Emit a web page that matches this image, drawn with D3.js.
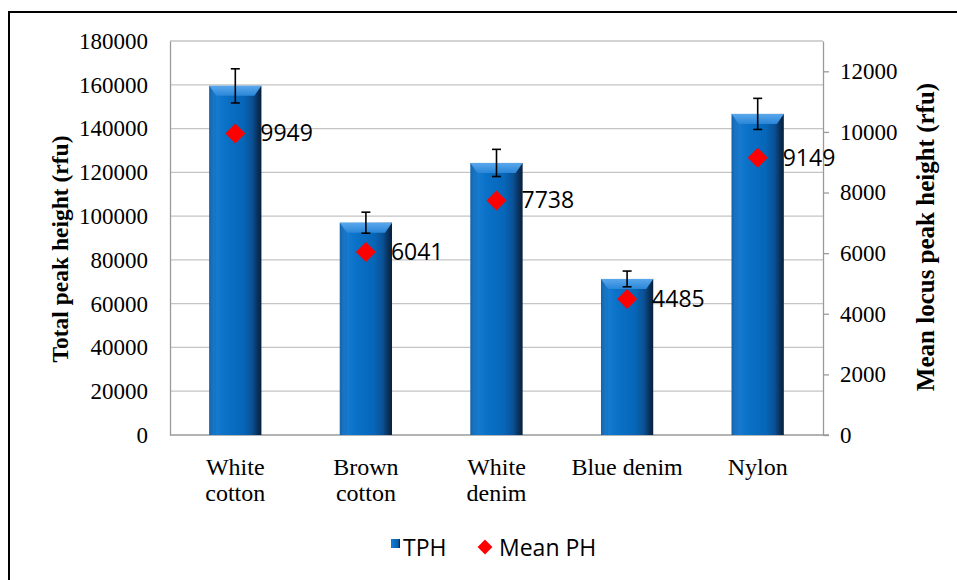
<!DOCTYPE html>
<html>
<head>
<meta charset="utf-8">
<script src="https://cdn.jsdelivr.net/npm/d3@7"></script>
<style>
html,body{margin:0;padding:0;background:#fff;}
svg{display:block;}
</style>
</head>
<body>
<svg id="chart" width="957" height="580"></svg>
<script>
const categories = [["White","cotton"],["Brown","cotton"],["White","denim"],["Blue denim"],["Nylon"]];
const catKeys = ["White cotton","Brown cotton","White denim","Blue denim","Nylon"];
const tphValues = [159500, 97000, 124300, 71300, 146700];
const tphErrors = [7800, 4800, 6200, 3600, 7100];
const meanPH = [9949, 6041, 7738, 4485, 9149];
const leftTicks = [0,20000,40000,60000,80000,100000,120000,140000,160000,180000];
const rightTicks = [0,2000,4000,6000,8000,10000,12000];

const svg = d3.select("#chart");
const L = 170, R = 823, T = 41, B = 435;

// frame
svg.append("rect").attr("x",9).attr("y",12).attr("width",960).attr("height",600)
  .attr("fill","#fff").attr("stroke","#000").attr("stroke-width",2);

const x = d3.scaleBand().domain(catKeys).range([L,R]).paddingInner(0.6).paddingOuter(0.3);
const yL = d3.scaleLinear().domain([0,180000]).range([B,T]);
const yR = d3.scaleLinear().domain([0,13000]).range([B,T]);

// defs
const defs = svg.append("defs");
const g1 = defs.append("linearGradient").attr("id","barGrad").attr("x1","0").attr("x2","1").attr("y1","0").attr("y2","0");
[[0,"#1660a6"],[0.08,"#1a7ed4"],[0.3,"#0a72c8"],[0.65,"#0666b8"],[0.82,"#0a5196"],[0.93,"#0a2f58"],[1,"#06203c"]]
  .forEach(([o,c])=>g1.append("stop").attr("offset",o).attr("stop-color",c));
const g2 = defs.append("linearGradient").attr("id","topGrad").attr("x1","0").attr("x2","0").attr("y1","0").attr("y2","1");
[[0,"#5aa8ec"],[1,"#2a86d8"]].forEach(([o,c])=>g2.append("stop").attr("offset",o).attr("stop-color",c));

// gridlines
svg.append("g").selectAll("line").data(leftTicks.filter(d=>d>0)).join("line")
  .attr("x1",L).attr("x2",R).attr("y1",d=>yL(d)).attr("y2",d=>yL(d))
  .attr("stroke","#c4c4c4").attr("stroke-width",1.3);

// left axis
const leftAxis = svg.append("g").attr("transform",`translate(${L},0)`)
  .call(d3.axisLeft(yL).tickValues(leftTicks).tickFormat(d=>d).tickSize(0).tickPadding(22));
leftAxis.select(".domain").attr("stroke","#9a9a9a").attr("stroke-width",1.3);
leftAxis.selectAll("text").attr("font-family","'Liberation Serif', serif").attr("font-size",23).attr("fill","#000");

// right axis
const rightAxis = svg.append("g").attr("transform",`translate(${R},0)`)
  .call(d3.axisRight(yR).tickValues(rightTicks).tickFormat(d=>d).tickSize(6).tickPadding(11).tickSizeOuter(0));
rightAxis.select(".domain").attr("stroke","#9a9a9a").attr("stroke-width",1.3);
rightAxis.selectAll("line").attr("stroke","#9a9a9a").attr("stroke-width",1.3);
rightAxis.selectAll("text").attr("font-family","'Liberation Serif', serif").attr("font-size",23).attr("fill","#000");

// bottom axis line
svg.append("line").attr("x1",L).attr("x2",R+6).attr("y1",B).attr("y2",B)
  .attr("stroke","#9a9a9a").attr("stroke-width",1.3);

// bars
const bars = svg.append("g");
catKeys.forEach((k,i)=>{
  const bx = x(k), bw = x.bandwidth(), by = yL(tphValues[i]);
  bars.append("rect").attr("x",bx).attr("y",by).attr("width",bw).attr("height",B-by)
    .attr("fill","url(#barGrad)");
  const h = 10;
  bars.append("path")
    .attr("d",`M${bx},${by}L${bx+bw},${by}L${bx+bw-7},${by+h}L${bx+7},${by+h}Z`)
    .attr("fill","url(#topGrad)");
  bars.append("path")
    .attr("d",`M${bx},${by}L${bx+7},${by+h}L${bx+7},${B}L${bx},${B}Z`)
    .attr("fill","#1766b0").attr("opacity",0.35);
});

// error bars
const eb = svg.append("g").attr("stroke","#000").attr("stroke-width",1.6);
catKeys.forEach((k,i)=>{
  const cx = x(k)+x.bandwidth()/2;
  const y1 = yL(tphValues[i]+tphErrors[i]), y2 = yL(tphValues[i]-tphErrors[i]);
  eb.append("line").attr("x1",cx).attr("x2",cx).attr("y1",y1).attr("y2",y2);
  eb.append("line").attr("x1",cx-4.5).attr("x2",cx+4.5).attr("y1",y1).attr("y2",y1);
  eb.append("line").attr("x1",cx-4.5).attr("x2",cx+4.5).attr("y1",y2).attr("y2",y2);
});

// diamonds & labels
const diamond = d3.symbol().type(d3.symbolSquare).size(200);
const mk = svg.append("g");
catKeys.forEach((k,i)=>{
  const cx = x(k)+x.bandwidth()/2, cy = yR(meanPH[i]);
  mk.append("path").attr("d",diamond()).attr("transform",`translate(${cx},${cy}) rotate(45)`)
    .attr("fill","#ff0000");
  mk.append("text").attr("x",cx+25).attr("y",cy+8).text(meanPH[i])
    .attr("font-family","'Open Sans', sans-serif").attr("font-size",23).attr("fill","#000");
});

// category labels
const cl = svg.append("g").attr("font-family","'Liberation Serif', serif").attr("font-size",24).attr("text-anchor","middle");
catKeys.forEach((k,i)=>{
  const cx = x(k)+x.bandwidth()/2;
  categories[i].forEach((line,j)=>{
    cl.append("text").attr("x",cx).attr("y",475+j*26).text(line);
  });
});

// axis titles
svg.append("text").attr("transform",`translate(68,249) rotate(-90)`).attr("text-anchor","middle")
  .attr("font-family","'Liberation Serif', serif").attr("font-weight","bold").attr("font-size",23.5)
  .text("Total peak height (rfu)");
svg.append("text").attr("transform",`translate(934,237) rotate(-90)`).attr("text-anchor","middle")
  .attr("font-family","'Liberation Serif', serif").attr("font-weight","bold").attr("font-size",25)
  .text("Mean locus peak height (rfu)");

// legend
const lg = svg.append("g");
lg.append("rect").attr("x",391).attr("y",539).attr("width",9).attr("height",9).attr("fill","url(#barGrad)");
lg.append("text").attr("x",403).attr("y",556).text("TPH")
  .attr("font-family","'Open Sans', sans-serif").attr("font-size",23);
lg.append("path").attr("d",d3.symbol().type(d3.symbolSquare).size(110)()).attr("transform","translate(485,547) rotate(45)")
  .attr("fill","#ff0000");
lg.append("text").attr("x",499).attr("y",556).text("Mean PH")
  .attr("font-family","'Open Sans', sans-serif").attr("font-size",23);
</script>
</body>
</html>
